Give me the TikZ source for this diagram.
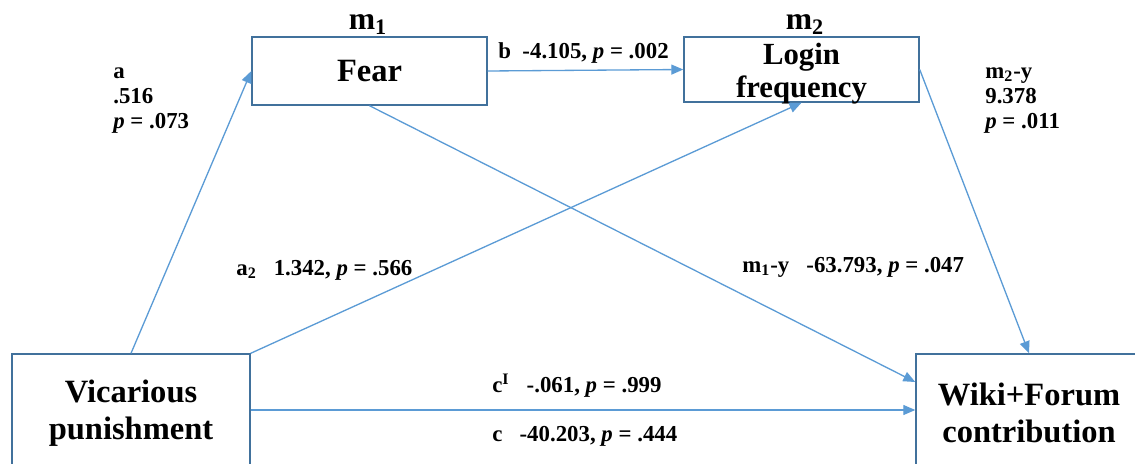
\documentclass[tikz,border=0pt]{standalone}
\usepackage{fontspec}
\setmainfont{Liberation Serif}
\usetikzlibrary{positioning,arrows.meta,calc}
\definecolor{boxline}{HTML}{41719C}
\definecolor{arrowblue}{HTML}{5B9BD5}

\begin{document}
\begin{tikzpicture}[
  x=0.02cm, y=-0.02cm,
  box/.style={draw=boxline, line width=0.8pt, fill=white, align=center,
              font=\fontsize{18.5}{21}\selectfont\bfseries, inner sep=2pt},
  mhead/.style={font=\fontsize{18}{21}\selectfont\bfseries, inner sep=0pt,
                anchor=base},
  coef/.style={font=\fontsize{13}{14.2}\selectfont\bfseries, align=left,
               inner sep=0pt, anchor=base west},
  link/.style={-{Triangle[length=2.4mm,width=2mm]}, line width=0.75pt,
               draw=arrowblue},
]
\useasboundingbox (0,0) rectangle (1135,463);

% ---- Variables -------------------------------------------------------------
\node[box, minimum width=235*0.02cm, minimum height=68*0.02cm] (fear) at (369.5,71) {Fear};
\node[box, minimum width=235*0.02cm, minimum height=65*0.02cm,
      font=\fontsize{17.5}{18.7}\selectfont\bfseries] (login) at (801.5,69.5)
  {\raisebox{-14pt}{\smash{\begin{tabular}{@{}c@{}}Login\\frequency\end{tabular}}}};
\node[box, minimum width=238*0.02cm, minimum height=118*0.02cm] (vic) at (131,413) {Vicarious\\punishment};
\node[box, minimum width=226*0.02cm, minimum height=118*0.02cm] (wiki) at (1029,413) {Wiki+Forum\\contribution};

\node[mhead] (m1) at (368,30) {m\textsubscript{1}};
\node[mhead] (m2) at (805,30) {m\textsubscript{2}};

% ---- Paths -----------------------------------------------------------------
\draw[link] (vic.north) -- (fear.west);
\draw[link] (fear.east) -- (login.west);
\draw[link] (vic.north east) -- (login.south);
\draw[link] (fear.south) -- ([yshift=6.2mm]wiki.west);
\draw[link] (login.east) -- (wiki.north);
\draw[link] ([yshift=0.6mm]vic.east) -- ([yshift=0.6mm]wiki.west);

% ---- Coefficients ----------------------------------------------------------
\node[coef] (acoef) at (113,128) {a\\.516\\\textit{p} = .073};
\node[coef] (bcoef) at (498,58) {b\ \ -4.105, \textit{p} = .002};
\node[coef] (a2coef) at (236,275) {a\textsubscript{2}\ \ \ 1.342, \textit{p} = .566};
\node[coef] (m1coef) at (742,272) {m\textsubscript{1}-y\ \ \ -63.793, \textit{p} = .047};
\node[coef] (m2coef) at (985,128) {m\textsubscript{2}-y\\9.378\\\textit{p} = .011};
\node[coef] (cpcoef) at (492,392) {c\textsuperscript{I}\ \ \ -.061, \textit{p} = .999};
\node[coef] (ccoef) at (492,441) {c\ \ \ -40.203, \textit{p} = .444};

\end{tikzpicture}
\end{document}
